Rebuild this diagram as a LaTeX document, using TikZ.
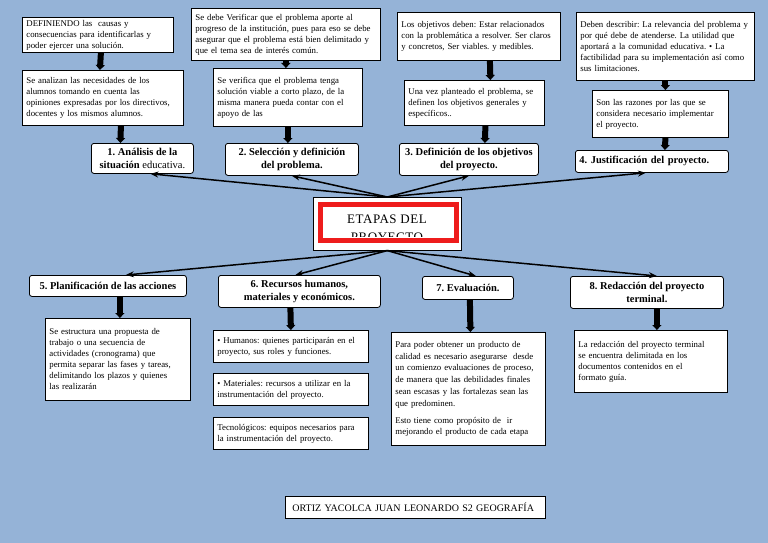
\documentclass[tikz,border=0pt]{standalone}
\usepackage{fontspec}
\setmainfont{Liberation Serif}
\usetikzlibrary{arrows.meta}

\definecolor{bgblue}{RGB}{149,179,215}
\definecolor{hubred}{RGB}{238,28,28}

\begin{document}
\frenchspacing
\begin{tikzpicture}[x=1pt,y=-1pt,
  every node/.style={font=\fontsize{8.8}{11}\selectfont},
  note/.style={draw,fill=white,line width=0.8pt,align=left,anchor=north west,inner xsep=4pt,inner ysep=2pt},
  stage/.style={draw,fill=white,rounded corners=2.5pt,line width=0.8pt,align=center,anchor=north west,inner sep=1pt,font=\fontsize{10.5}{12.5}\selectfont\bfseries},
  hub/.style={draw,fill=white,line width=0.6pt,anchor=north west,minimum width=148pt,minimum height=53pt},
  link/.style={-{Stealth[length=8pt,width=6pt]},line width=1.5pt},
  bolt/.style={-{Triangle[length=5pt,width=9pt]},line width=6pt}
]
\useasboundingbox (0,0) rectangle (768,543);
\fill[bgblue] (0,0) rectangle (768,543);
% centre
\node[hub] (hub) at (313,197) {};
\draw[hubred,line width=5pt] ([shift={(7.5,7.5)}]hub.north west) rectangle ([shift={(-5.5,-10.5)}]hub.south east);
\begin{scope}
\clip ([shift={(10,10)}]hub.north west) rectangle ([shift={(-8,-14)}]hub.south east);
\node[anchor=north,inner sep=0pt,align=center,font=\fontsize{13}{18}\selectfont\addfontfeatures{LetterSpace=4}] (title) at (387,214.5) {ETAPAS DEL\\PROYECTO};
\end{scope}
% 1. analisis
\node[note,text width=143pt,minimum height=35pt] (a1) at (22,17) {DEFINIENDO las \ causas y\\consecuencias para identificarlas y\\poder ejercer una solución.};
\node[note,text width=153pt,minimum height=55pt] (a2) at (22,70) {Se analizan las necesidades de los\\alumnos tomando en cuenta las\\opiniones expresadas por los directivos,\\docentes y los mismos alumnos.};
\node[stage,minimum width=102pt,minimum height=30pt] (s1) at (91,143) {1. Análisis de la\\situación \mdseries educativa.};
% 2. seleccion
\node[note,text width=181pt,minimum height=52pt] (b1) at (191,8) {Se debe Verificar que el problema aporte al\\progreso de la institución, pues para eso se debe\\asegurar que el problema está bien delimitado y\\que el tema sea de interés común.};
\node[note,text width=141pt,minimum height=58pt] (b2) at (213,68) {Se verifica que el problema tenga\\solución viable a corto plazo, de la\\misma manera pueda contar con el\\apoyo de las};
\node[stage,minimum width=133pt,minimum height=32pt] (s2) at (225,143) {2. Selección y definición\\del problema.};
% 3. objetivos
\node[note,text width=155pt,minimum height=48pt] (c1) at (397,12) {Los objetivos deben: Estar relacionados\\con la problemática a resolver. Ser claros\\y concretos, Ser viables. y medibles.};
\node[note,text width=132pt,minimum height=45pt] (c2) at (404,80) {Una vez planteado el problema, se\\definen los objetivos generales y\\específicos..};
\node[stage,minimum width=139pt,minimum height=32pt] (s3) at (399,143) {3. Definición de los objetivos\\del proyecto.};
% 4. justificacion
\node[note,text width=170pt,minimum height=68pt] (d1) at (576,12) {Deben describir: La relevancia del problema y\\por qué debe de atenderse. La utilidad que\\aportará a la comunidad educativa. • La\\factibilidad para su implementación así como\\sus limitaciones.};
\node[note,text width=128pt,minimum height=47pt] (d2) at (592,90) {Son las razones por las que se\\considera necesario implementar\\el proyecto.};
\node[stage,align=left,inner xsep=4pt,text width=145pt,minimum height=22pt] (s4) at (575,150) {4. Justificación del proyecto.};
% 5. planificacion
\node[stage,minimum width=157pt,minimum height=21pt] (s5) at (29,275) {5. Planificación de las acciones};
\node[note,text width=137pt,minimum height=82pt] (e1) at (45,318) {Se estructura una propuesta de\\trabajo o una secuencia de\\actividades (cronograma) que\\permita separar las fases y tareas,\\delimitando los plazos y quienes\\las realizarán};
% 6. recursos
\node[stage,minimum width=162pt,minimum height=32pt] (s6) at (218,275) {6. Recursos humanos,\\materiales y económicos.};
\node[note,text width=147pt,minimum height=32pt] (f1) at (213,330) {• Humanos: quienes participarán en el\\proyecto, sus roles y funciones.};
\node[note,text width=147pt,minimum height=32pt] (f2) at (213,373) {• Materiales: recursos a utilizar en la\\instrumentación del proyecto.};
\node[note,text width=147pt,minimum height=32pt] (f3) at (213,417) {Tecnológicos: equipos necesarios para\\la instrumentación del proyecto.};
% 7. evaluacion
\node[stage,minimum width=91pt,minimum height=23pt] (s7) at (422,276) {7. Evaluación.};
\node[note,text width=146pt,minimum height=113pt,font=\fontsize{8.8}{11.8}\selectfont] (g1) at (391,332) {Para poder obtener un producto de\\calidad es necesario asegurarse \ desde\\un comienzo evaluaciones de proceso,\\de manera que las debilidades finales\\sean escasas y las fortalezas sean las\\que predominen.\\[5pt]Esto tiene como propósito de \ ir\\mejorando el producto de cada etapa};
% 8. redaccion
\node[stage,minimum width=153pt,minimum height=32pt] (s8) at (570,276) {8. Redacción del proyecto\\terminal.};
\node[note,text width=145pt,minimum height=62pt] (h1) at (574,330) {La redacción del proyecto terminal\\se encuentra delimitada en los\\documentos contenidos en el\\formato guía.};
% firma
\node[note,inner xsep=7pt,text width=246pt,minimum height=22pt,font=\fontsize{10}{12}\selectfont] (firma) at (285,496) {ORTIZ YACOLCA JUAN LEONARDO S2 GEOGRAFÍA};
% hub links
\draw[link] (hub.north) -- ([xshift=8pt]s1.south);
\draw[link] (hub.north) -- (s2.south);
\draw[link] (hub.north) -- (s3.south);
\draw[link] (hub.north) -- ([xshift=-6pt]s4.south);
\draw[link] (hub.south) -- ([xshift=18pt]s5.north);
\draw[link] (hub.south) -- ([xshift=-4pt]s6.north);
\draw[link] (hub.south) -- ([xshift=8pt]s7.north);
\draw[link] (hub.south) -- ([xshift=10pt]s8.north);
% bolts
\draw[bolt] ([xshift=3pt]a1.south) -- ([xshift=-3pt]a2.north);
\draw[bolt] ([xshift=18pt]a2.south) -- ([xshift=-22pt]s1.north);
\draw[bolt] (b1.south) -- ([xshift=-2pt]b2.north);
\draw[bolt] (b2.south) -- ([xshift=-4pt]s2.north);
\draw[bolt] ([xshift=11pt]c1.south) -- ([xshift=16pt]c2.north);
\draw[bolt] ([xshift=11pt]c2.south) -- ([xshift=16pt]s3.north);
\draw[bolt] (d1.south) -- ([xshift=5pt]d2.north);
\draw[bolt] ([xshift=5pt]d2.south) -- ([xshift=13pt]s4.north);
\draw[bolt] ([xshift=12pt]s5.south) -- ([xshift=2pt]e1.north);
\draw[bolt] ([xshift=-9pt]s6.south) -- (f1.north);
\draw[bolt] ([xshift=2pt]s7.south) -- ([xshift=2pt]g1.north);
\draw[bolt] ([xshift=10pt]s8.south) -- ([xshift=6pt]h1.north);
\end{tikzpicture}
\end{document}
